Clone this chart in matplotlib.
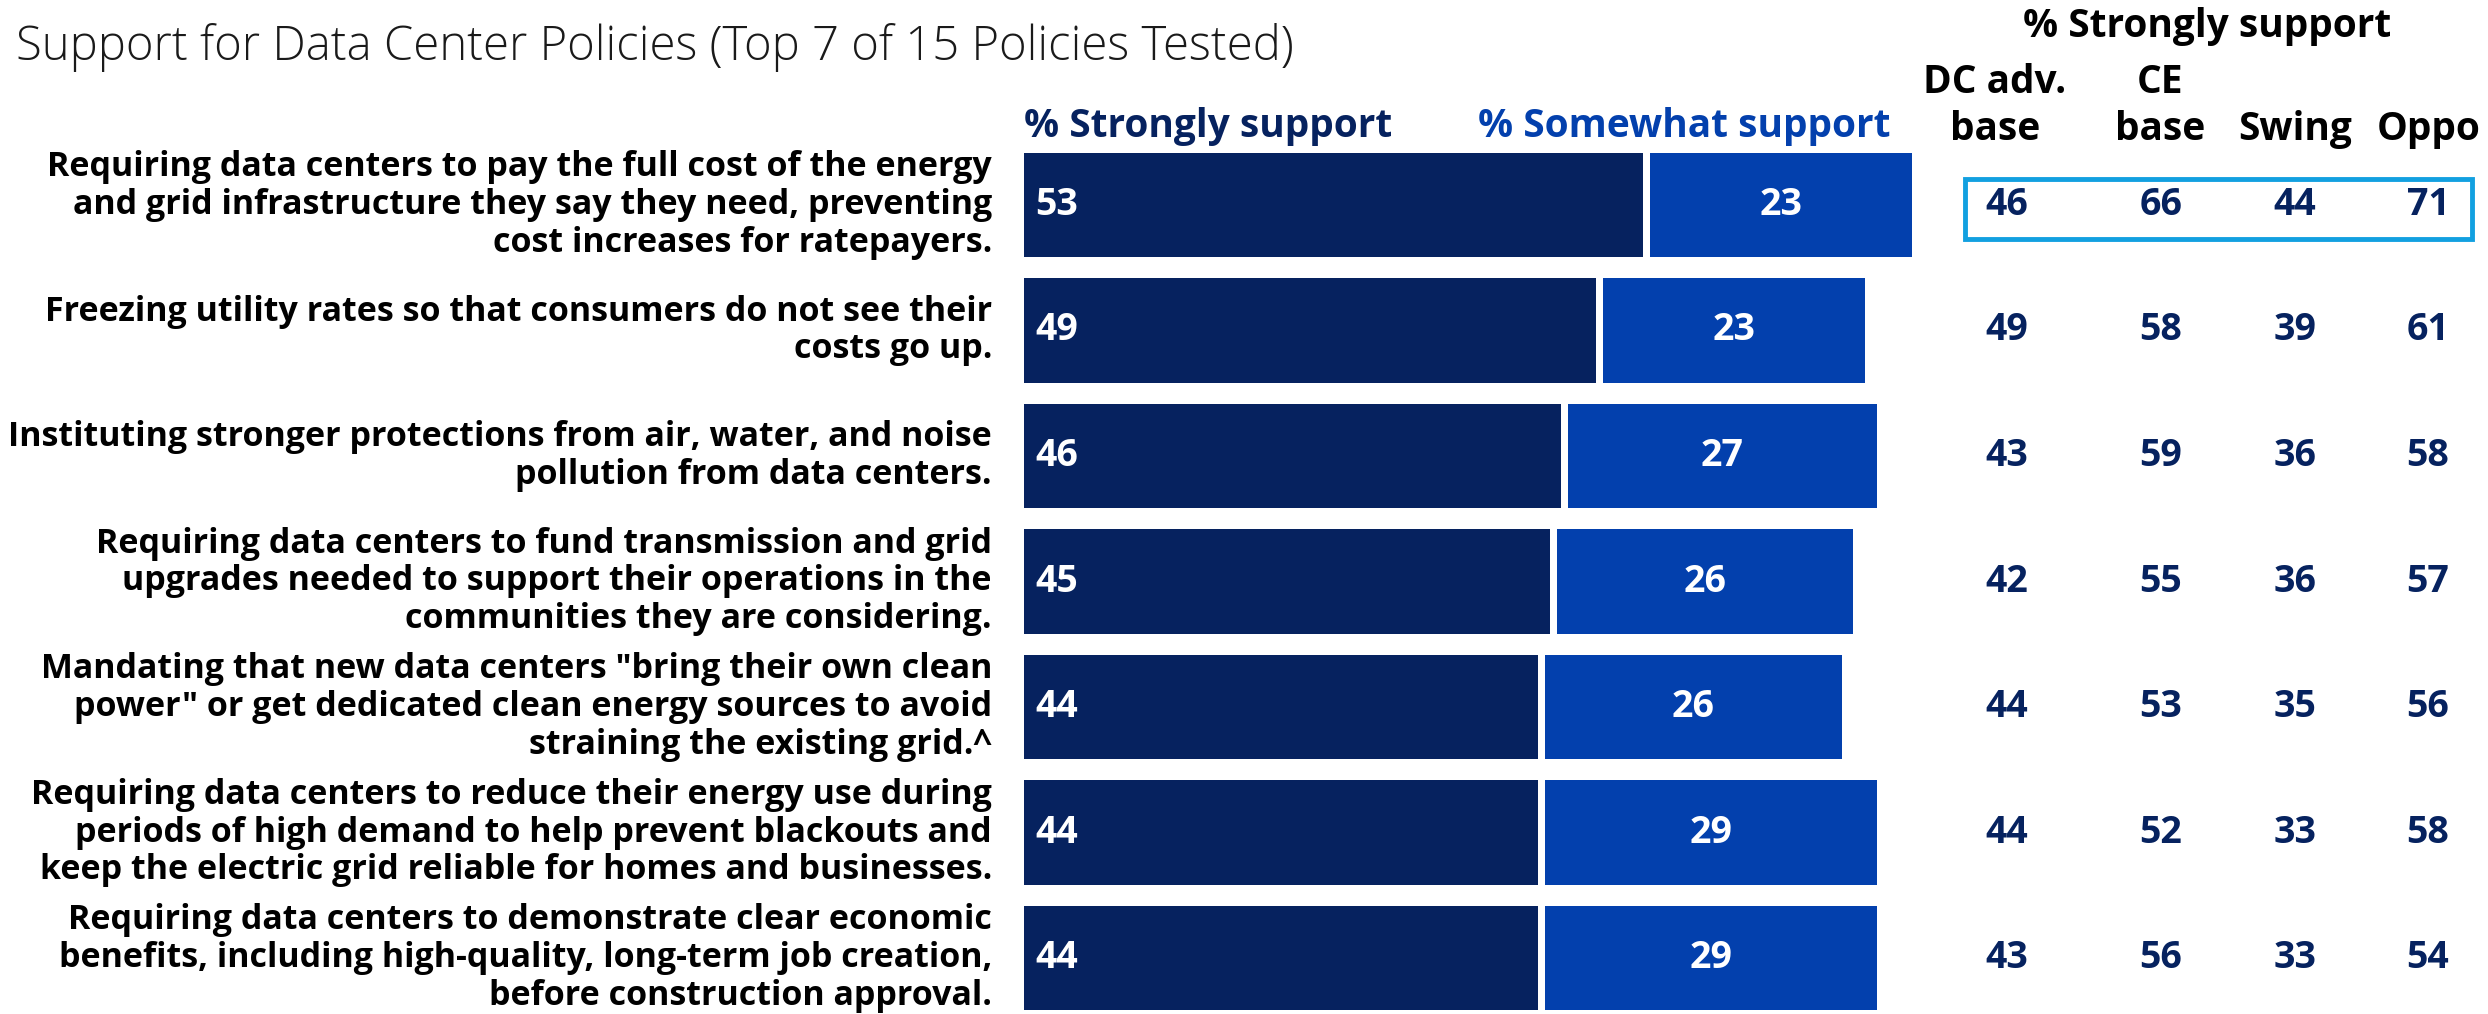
import matplotlib
matplotlib.use("Agg")
import matplotlib.pyplot as plt
from matplotlib.patches import Rectangle
from matplotlib.transforms import blended_transform_factory

plt.rcParams['font.family'] = ['Open Sans', 'DejaVu Sans']

policies = [
    "Requiring data centers to pay the full cost of the energy\nand grid infrastructure they say they need, preventing\ncost increases for ratepayers.",
    "Freezing utility rates so that consumers do not see their\ncosts go up.",
    "Instituting stronger protections from air, water, and noise\npollution from data centers.",
    "Requiring data centers to fund transmission and grid\nupgrades needed to support their operations in the\ncommunities they are considering.",
    "Mandating that new data centers \"bring their own clean\npower\" or get dedicated clean energy sources to avoid\nstraining the existing grid.^",
    "Requiring data centers to reduce their energy use during\nperiods of high demand to help prevent blackouts and\nkeep the electric grid reliable for homes and businesses.",
    "Requiring data centers to demonstrate clear economic\nbenefits, including high-quality, long-term job creation,\nbefore construction approval.",
]
strongly = [53, 49, 46, 45, 44, 44, 44]
somewhat = [23, 23, 27, 26, 26, 29, 29]

table_cols = ["DC adv.\nbase", "CE\nbase", "Swing", "Oppo"]
dc_adv_base = [46, 49, 43, 42, 44, 44, 43]
ce_base = [66, 58, 59, 55, 53, 52, 56]
swing = [44, 39, 36, 36, 35, 33, 33]
oppo = [71, 61, 58, 57, 56, 58, 54]

NAVY = "#06225F"
BLUE = "#0340AD"
BOX = "#12A0E0"

W, H = 2488, 1014
fig = plt.figure(figsize=(W / 100, H / 100), dpi=100)

px_per_unit = 11.68
x0_px = 1024
row0_px = 205
row_step = 125.5
ax = fig.add_axes([0, 0, 1, 1])
ax.set_xlim(-x0_px / px_per_unit, (W - x0_px) / px_per_unit)
ax.set_ylim((H - row0_px) / row_step, -row0_px / row_step)
ax.axis('off')

ys = list(range(len(policies)))
bar_h = 0.83
gap = 0.6
ax.barh(ys, strongly, height=bar_h, left=0, color=NAVY, edgecolor='none')
ax.barh(ys, [s - gap for s in somewhat], height=bar_h,
        left=[v + gap for v in strongly], color=BLUE, edgecolor='none')

for y, v, s in zip(ys, strongly, somewhat):
    ax.text(1.0, y, str(v), color='white', fontsize=27, fontweight='bold',
            ha='left', va='center')
    ax.text(v + gap + (s - gap) / 2, y, str(s), color='white', fontsize=27,
            fontweight='bold', ha='center', va='center')

tr_lab = blended_transform_factory(fig.transFigure, ax.transData)
for y, lab in zip(ys, policies):
    ax.text(992 / W, y, lab, transform=tr_lab, ha='right', va='center',
            fontsize=24.5, fontweight='bold', color='black', linespacing=1.15)

col_x = [2007, 2161, 2295, 2428]
head_x = [1995, 2160, 2295, 2429]
for cx, vals in zip(col_x, [dc_adv_base, ce_base, swing, oppo]):
    for y, v in zip(ys, vals):
        ax.text(cx / W, y, str(v), transform=tr_lab, ha='center', va='center',
                fontsize=27, fontweight='bold', color=NAVY)

for hx, name in zip(head_x, table_cols):
    fig.text(hx / W, 1 - 140 / H, name, ha='center', va='baseline',
             fontsize=28, fontweight='bold', color='black', linespacing=1.28)

fig.text(2207 / W, 1 - 27 / H, "% Strongly support", ha='center', va='center',
         fontsize=28, fontweight='bold', color='black')

fig.patches.append(Rectangle((1965 / W, 1 - 239 / H), (2472 - 1965) / W, 60 / H,
                             transform=fig.transFigure, fill=False,
                             edgecolor=BOX, linewidth=3.5))

fig.text(1024 / W, 1 - 126 / H, "% Strongly support", ha='left', va='center',
         fontsize=28, fontweight='bold', color=NAVY)
fig.text(1891 / W, 1 - 126 / H, "% Somewhat support", ha='right', va='center',
         fontsize=28, fontweight='bold', color=BLUE)

fig.text(16 / W, 1 - 48 / H, "Support for Data Center Policies (Top 7 of 15 Policies Tested)",
         ha='left', va='center', fontsize=34, fontweight='light', color='#1a1a1a')

fig.savefig("out.png", dpi=100)
